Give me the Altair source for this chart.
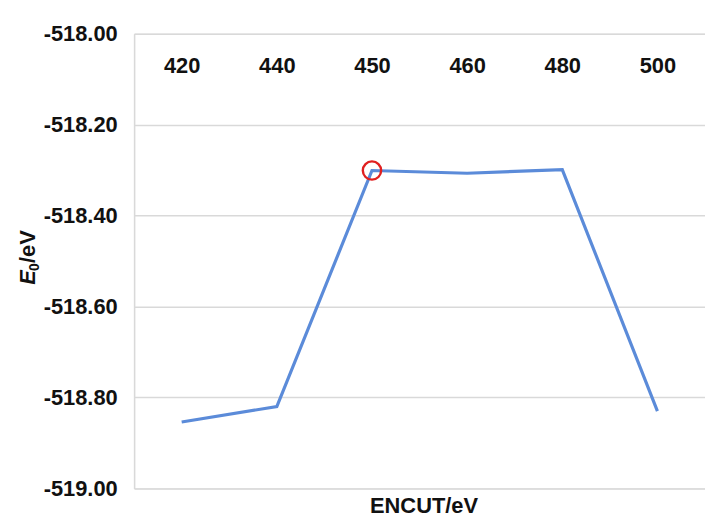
import altair as alt
import pandas as pd

# Data
encut = ["420", "440", "450", "460", "480", "500"]
energy = [-518.854, -518.820, -518.301, -518.307, -518.299, -518.830]
highlight = ["450"]
y_ticks = [-519.0, -518.8, -518.6, -518.4, -518.2, -518.0]

df = pd.DataFrame({"encut": encut, "energy": energy})

FONT = "Liberation Sans"
FS = 22

x_enc = alt.X(
    "encut:N",
    sort=encut,
    title=None,
    scale=alt.Scale(type="point", padding=0.5),
    axis=alt.Axis(
        orient="top",
        domain=False,
        ticks=False,
        tickSize=0,
        grid=False,
        labelAngle=0,
        labelPadding=-32,
        labelBaseline="middle",
        labelFont=FONT,
        labelFontSize=FS,
        labelFontWeight="bold",
        labelColor="#111111",
    ),
)
y_enc = alt.Y(
    "energy:Q",
    title=None,
    scale=alt.Scale(domain=[-519.0, -518.0], nice=False, zero=False),
    axis=alt.Axis(
        values=y_ticks,
        labelExpr="'-' + format(abs(datum.value), '.2f')",
        domain=True,
        domainColor="#d9d9d9",
        domainWidth=1.5,
        ticks=False,
        tickSize=0,
        grid=True,
        gridColor="#d9d9d9",
        gridWidth=1.5,
        labelPadding=17,
        labelFont=FONT,
        labelFontSize=FS,
        labelFontWeight="bold",
        labelColor="#111111",
    ),
)

base = alt.Chart(df)

line = base.mark_line(color="#5b8bd9", strokeWidth=3.2).encode(x=x_enc, y=y_enc)

circle = base.transform_filter(
    alt.FieldOneOfPredicate(field="encut", oneOf=highlight)
).mark_point(
    shape="circle", filled=False, color="#e02020", size=340, strokeWidth=2.4, opacity=1
).encode(x="encut:N", y="energy:Q")

# Y axis title: italic "E", subscript "0", upright "/eV"
title_e = alt.Chart(pd.DataFrame({"t": ["E"]})).mark_text(
    font=FONT, fontSize=FS, fontWeight="bold", fontStyle="italic",
    angle=270, align="left", baseline="middle", color="#111111"
).encode(text="t:N", x=alt.value(-107), y=alt.value(253))

title_sub = alt.Chart(pd.DataFrame({"t": ["0"]})).mark_text(
    font=FONT, fontSize=14, fontWeight="bold",
    angle=270, align="left", baseline="middle", color="#111111"
).encode(text="t:N", x=alt.value(-100), y=alt.value(239))

title_ev = alt.Chart(pd.DataFrame({"t": ["/eV"]})).mark_text(
    font=FONT, fontSize=FS, fontWeight="bold",
    angle=270, align="left", baseline="middle", color="#111111"
).encode(text="t:N", x=alt.value(-107), y=alt.value(231))

# X axis title below the plot
title_x = alt.Chart(pd.DataFrame({"t": ["ENCUT/eV"]})).mark_text(
    font=FONT, fontSize=FS, fontWeight="bold",
    align="center", baseline="alphabetic", color="#111111"
).encode(text="t:N", x=alt.value(292), y=alt.value(483))

chart = alt.layer(line, circle, title_e, title_sub, title_ev, title_x).properties(
    width=575,
    height=458,
    autosize=alt.AutoSizeParams(type="none"),
    padding={"left": 127, "top": 24, "right": 0, "bottom": 30},
).configure_view(stroke=None).configure(background="white")

chart.save("out.html", embed_options={"renderer": "svg", "actions": False})
